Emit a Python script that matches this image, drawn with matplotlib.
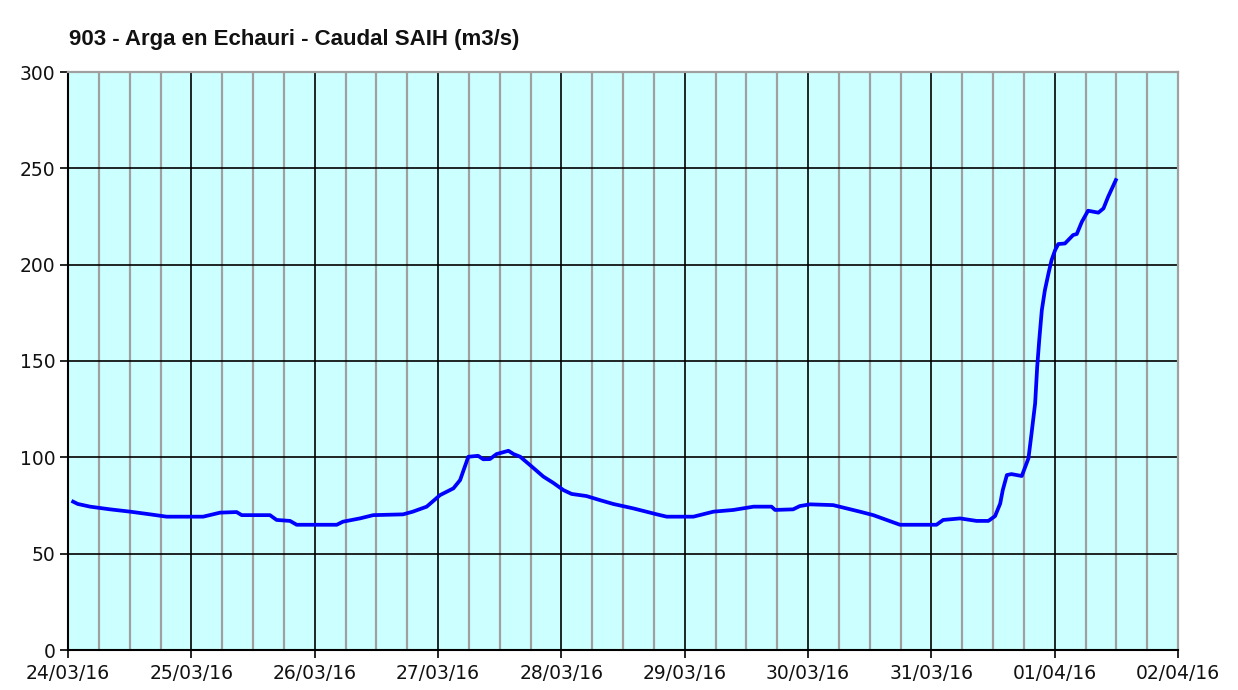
import numpy as np
import pandas as pd
import matplotlib
matplotlib.use("Agg")
import matplotlib.pyplot as plt
import matplotlib.dates as mdates

# hours since 24/03/16 00:00 and flow (m3/s)
hours = [1.0, 1.9, 4.3, 8.2, 12.1, 16.0, 19.2, 26.3, 29.6, 32.8, 33.8, 39.3,
         40.6, 43.2, 44.5, 52.3, 53.5, 56.8, 59.4, 65.2, 67.1, 69.8, 72.4,
         75.0, 76.3, 77.9, 79.8, 80.8, 82.1, 83.4, 85.7, 86.7, 88.0, 89.9,
         92.5, 94.4, 96.4, 98.0, 100.9, 103.5, 106.1, 110.0, 114.6, 116.5,
         121.7, 125.6, 129.5, 133.4, 136.9, 137.6, 141.1, 142.4, 144.4, 148.9,
         151.5, 154.1, 156.7, 159.3, 161.9, 169.0, 170.3, 173.6, 176.8, 179.1,
         180.4, 181.4, 181.9, 182.7, 183.6, 185.6, 186.9, 187.5, 188.2, 188.6,
         189.0, 189.5, 190.1, 190.8, 191.4, 192.1, 192.7, 194.0, 195.6, 196.3,
         197.3, 198.5, 199.5, 200.5, 201.5, 202.4, 203.9]
caudal = [77, 75.8, 74.4, 73, 71.8, 70.4, 69.2, 69.2, 71.3, 71.6, 70, 70,
          67.5, 67, 65, 65, 66.6, 68.3, 70, 70.4, 71.8, 74.4, 80.4,
          83.9, 88.2, 100.3, 100.8, 99, 99.1, 101.7, 103.4, 101.7, 100.3, 96,
          90, 86.8, 83, 81, 79.9, 77.8, 75.8, 73.5, 70.4, 69.2,
          69.2, 71.8, 72.7, 74.4, 74.4, 72.7, 73, 74.7, 75.6, 75.2,
          73.5, 71.8, 70, 67.5, 65, 65, 67.5, 68.3, 67, 67,
          69.5, 76, 83, 90.8, 91.3, 90.3, 99.5, 112.4, 128, 147,
          160.9, 176.4, 186.8, 195.5, 202.4, 207.6, 210.7, 211, 215.4, 215.9,
          222.3, 228, 227.5, 227, 229.2, 235.2, 243.9]

start = pd.Timestamp("2016-03-24")
t = start + pd.to_timedelta(hours, unit="h")

plt.rcParams['font.family'] = ['DejaVu Sans']

fig = plt.figure(figsize=(12.38, 6.9), dpi=100)
ax = fig.add_axes([68/1238, 40/690, 1110/1238, 578/690])
ax.set_facecolor('#ccffff')

ax.plot(t, caudal, color='#0000ff', linewidth=2.7, zorder=3)

ax.set_xlim(start, start + pd.Timedelta(days=9))
ax.set_ylim(0, 300)
ax.set_yticks(np.arange(0, 301, 50))

ax.xaxis.set_major_locator(mdates.DayLocator())
ax.xaxis.set_major_formatter(mdates.DateFormatter('%d/%m/%y'))
ax.xaxis.set_minor_locator(mdates.HourLocator(byhour=[6, 12, 18]))

ax.grid(which='minor', axis='x', color='#a0a0a0', linewidth=1.6)
ax.grid(which='major', axis='x', color='black', linewidth=1.2)
ax.grid(which='major', axis='y', color='black', linewidth=1.2)
ax.set_axisbelow(True)

ax.tick_params(which='major', length=6, width=1.2, color='black',
               labelsize=13.5, labelcolor='#111111')
ax.tick_params(axis='y', pad=3)
ax.tick_params(axis='x', pad=4)
ax.tick_params(which='minor', length=0)

for side in ['top', 'right']:
    ax.spines[side].set_color('#a0a0a0')
    ax.spines[side].set_linewidth(1.6)
for side in ['left', 'bottom']:
    ax.spines[side].set_color('black')
    ax.spines[side].set_linewidth(1.5)

fig.text(69/1238, 1 - 39/690, '903 - Arga en Echauri - Caudal SAIH (m3/s)',
         fontsize=16, fontweight='bold', va='center', ha='left',
         family=['Liberation Sans', 'DejaVu Sans'], color='#111111')

fig.savefig('out.png', dpi=100)
